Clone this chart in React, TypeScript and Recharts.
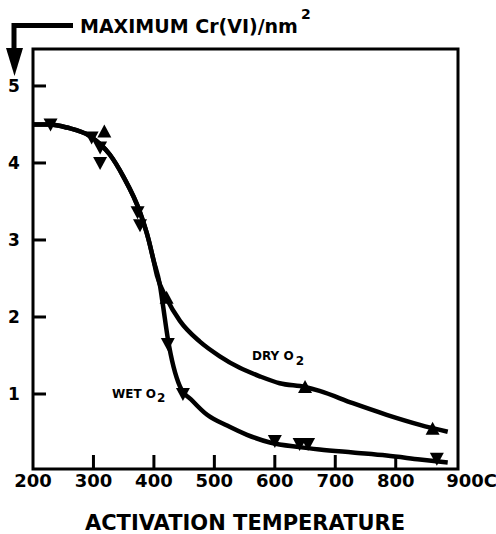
import {
  ComposedChart,
  Line,
  ReferenceArea,
  Scatter,
  XAxis,
  YAxis,
} from 'recharts';

// values (temperature in C, Cr(VI)/nm2)
const wetTemps = [229, 297, 311, 311, 373, 377, 423, 448, 600, 641, 655, 868];
const wetValues = [4.5, 4.33, 4.2, 4.0, 3.36, 3.19, 1.65, 1.0, 0.39, 0.35, 0.35, 0.16];

const dryTemps = [318, 421, 650, 861];
const dryValues = [4.41, 2.25, 1.09, 0.55];

// hand-drawn curves through the points
const wetCurveTemps = [200, 228, 256, 294, 327, 349, 377, 391, 399, 410, 415, 423, 443, 464, 488, 521, 554, 592, 641, 674, 729, 785, 840, 886];
const wetCurveValues = [4.5, 4.5, 4.46, 4.35, 4.11, 3.83, 3.36, 3.01, 2.75, 2.41, 2.15, 1.72, 1.1, 0.91, 0.73, 0.59, 0.47, 0.37, 0.31, 0.28, 0.24, 0.2, 0.15, 0.11];

const dryCurveTemps = [200, 228, 256, 294, 327, 349, 377, 391, 399, 405, 421, 443, 476, 509, 542, 575, 608, 650, 674, 729, 785, 840, 886];
const dryCurveValues = [4.5, 4.5, 4.46, 4.35, 4.11, 3.83, 3.36, 3.01, 2.75, 2.54, 2.24, 1.95, 1.68, 1.49, 1.34, 1.23, 1.14, 1.09, 1.04, 0.88, 0.73, 0.6, 0.51];

const xTicks = [200, 300, 400, 500, 600, 700, 800, 900];
const yTicks = [1, 2, 3, 4, 5];

const X_DOMAIN = [200, 903];
const Y_DOMAIN = [0.026, 5.48];

const FONT = '"DejaVu Sans", "Liberation Sans", Arial, sans-serif';

const toPoints = (xs: number[], ys: number[]) => xs.map((x, i) => ({ x, y: ys[i] }));

const wetPoints = toPoints(wetTemps, wetValues);
const dryPoints = toPoints(dryTemps, dryValues);
const wetCurve = toPoints(wetCurveTemps, wetCurveValues);
const dryCurve = toPoints(dryCurveTemps, dryCurveValues);

// inward tick marks, placed by the chart's scales
const xTickMarks = xTicks.slice(1, -1).map((x) => ({ x, y: Y_DOMAIN[0] }));
const yTickMarks = yTicks.map((y) => ({ x: X_DOMAIN[0], y }));

const DownTriangle = (p: any) => {
  const { cx, cy } = p;
  return <polygon points={`${cx - 7},${cy - 6} ${cx + 7},${cy - 6} ${cx},${cy + 7}`} fill="#000" />;
};

const UpTriangle = (p: any) => {
  const { cx, cy } = p;
  return <polygon points={`${cx - 7},${cy + 6} ${cx + 7},${cy + 6} ${cx},${cy - 7}`} fill="#000" />;
};

const XTickMark = (p: any) => (
  <polygon
    points={`${p.cx - 1.5},${p.cy} ${p.cx + 1.5},${p.cy} ${p.cx + 1.5},${p.cy - 14} ${p.cx - 1.5},${p.cy - 14}`}
    fill="#000"
  />
);

const YTickMark = (p: any) => (
  <polygon
    points={`${p.cx},${p.cy - 1.5} ${p.cx + 13},${p.cy - 1.5} ${p.cx + 13},${p.cy + 1.5} ${p.cx},${p.cy + 1.5}`}
    fill="#000"
  />
);

const XTick = (p: any) => {
  const { x, y, payload } = p;
  const v = payload.value;
  return (
    <text
      x={v === 900 ? x - 10 : x}
      y={y + 18}
      textAnchor={v === 900 ? 'start' : 'middle'}
      fontFamily={FONT}
      fontWeight="bold"
      fontSize={18}
      fill="#000"
    >
      {v === 900 ? '900C' : v}
    </text>
  );
};

const YTick = (p: any) => {
  const { x, y, payload } = p;
  return (
    <text x={x - 19} y={y + 6} textAnchor="middle" fontFamily={FONT} fontWeight="bold" fontSize={17} fill="#000">
      {payload.value}
    </text>
  );
};

export default function App() {
  return (
    <div style={{ position: 'absolute', left: 0, top: 0, width: 496, height: 534, background: '#fff' }}>
      <ComposedChart width={496} height={534} margin={{ top: 49, right: 38, bottom: 0, left: 0 }}>
        <XAxis
          dataKey="x"
          type="number"
          domain={X_DOMAIN}
          ticks={xTicks}
          interval={0}
          height={65}
          tickSize={0}
          tickMargin={0}
          axisLine={false}
          tickLine={false}
          tick={XTick}
        />
        <YAxis
          dataKey="y"
          type="number"
          domain={Y_DOMAIN}
          ticks={yTicks}
          interval={0}
          width={33}
          tickSize={0}
          tickMargin={0}
          axisLine={false}
          tickLine={false}
          tick={YTick}
        />
        <ReferenceArea
          x1={X_DOMAIN[0]}
          x2={X_DOMAIN[1]}
          y1={Y_DOMAIN[0]}
          y2={Y_DOMAIN[1]}
          fill="none"
          stroke="#000"
          strokeWidth={3}
          ifOverflow="visible"
        />
        <Line
          data={dryCurve}
          dataKey="y"
          type="monotone"
          stroke="#000"
          strokeWidth={4.5}
          dot={false}
          activeDot={false}
          isAnimationActive={false}
        />
        <Line
          data={wetCurve}
          dataKey="y"
          type="monotone"
          stroke="#000"
          strokeWidth={4.5}
          dot={false}
          activeDot={false}
          isAnimationActive={false}
        />
        <Scatter data={wetPoints} dataKey="y" shape={DownTriangle} isAnimationActive={false} />
        <Scatter data={dryPoints} dataKey="y" shape={UpTriangle} isAnimationActive={false} />
        <Scatter data={xTickMarks} dataKey="y" shape={XTickMark} isAnimationActive={false} />
        <Scatter data={yTickMarks} dataKey="y" shape={YTickMark} isAnimationActive={false} />
      </ComposedChart>

      <svg
        width={496}
        height={534}
        style={{ position: 'absolute', left: 0, top: 0, pointerEvents: 'none' }}
        fontFamily={FONT}
        fontWeight="bold"
      >
        <polyline points="73,25.5 14,25.5 14,52" fill="none" stroke="#000" strokeWidth={5} />
        <polygon points="6,48 23,48 14.5,76" fill="#000" />
        <text x={80} y={33} fontSize={19} fill="#000">
          MAXIMUM Cr(VI)/nm
          <tspan dx={3} dy={-14} fontSize={14}>2</tspan>
        </text>
        <text x={252} y={360} fontSize={12} fill="#000">
          DRY O<tspan dx={2} dy={5} fontSize={12}>2</tspan>
        </text>
        <text x={112} y={398} fontSize={12} fill="#000">
          WET O<tspan dx={1} dy={4} fontSize={12}>2</tspan>
        </text>
        <text x={245} y={530} textAnchor="middle" fontSize={21} fill="#000">
          ACTIVATION TEMPERATURE
        </text>
      </svg>
    </div>
  );
}
